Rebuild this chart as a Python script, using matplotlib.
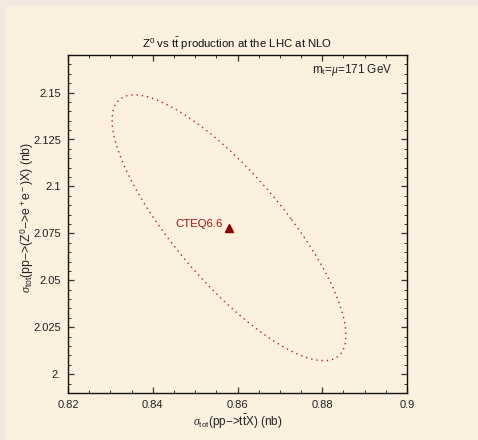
import numpy as np
import matplotlib
matplotlib.use("Agg")
import matplotlib.pyplot as plt
from matplotlib.patches import Ellipse, Rectangle
from matplotlib.ticker import MultipleLocator, FixedLocator, FixedFormatter

plt.rcParams['font.family'] = ['Liberation Sans', 'DejaVu Sans']
plt.rcParams['mathtext.fontset'] = 'custom'
plt.rcParams['mathtext.rm'] = 'Liberation Sans'
plt.rcParams['mathtext.it'] = 'Liberation Serif:italic'
plt.rcParams['mathtext.bf'] = 'Liberation Sans:bold'

# CTEQ6.6 central prediction (nb)
pdf_name = "CTEQ6.6"
sigma_tt = 0.858
sigma_z = 2.078

# PDF uncertainty ellipse: half-extents along each axis and correlation
half_tt = 0.0276
half_z = 0.0708
corr = -0.81

xticks = [0.82, 0.84, 0.86, 0.88, 0.9]
xticklabels = ["0.82", "0.84", "0.86", "0.88", "0.9"]
yticks = [2.0, 2.025, 2.05, 2.075, 2.1, 2.125, 2.15]
yticklabels = ["2.", "2.025", "2.05", "2.075", "2.1", "2.125", "2.15"]

cream = "#fcf0df"
border = "#f4e8e0"
dark_red = "#8b0000"

fig = plt.figure(figsize=(4.78, 4.40), dpi=100, facecolor=cream)
W, H = 478, 440
fig.patches.append(Rectangle((0, 0), 6 / W, 1, transform=fig.transFigure,
                             facecolor=border, edgecolor='none', zorder=0))
fig.patches.append(Rectangle((0, 1 - 6 / H), 1, 6 / H, transform=fig.transFigure,
                             facecolor=border, edgecolor='none', zorder=0))

ax = fig.add_axes([68 / W, 47 / H, 339 / W, 338 / H])
ax.set_facecolor(cream)
ax.set_xlim(0.82, 0.90)
ax.set_ylim(1.99, 2.17)

# Covariance ellipse drawn from its principal axes
cov = np.array([[half_tt ** 2, corr * half_tt * half_z],
                [corr * half_tt * half_z, half_z ** 2]])
vals, vecs = np.linalg.eigh(cov)
angle = np.degrees(np.arctan2(vecs[1, 1], vecs[0, 1]))
ell = Ellipse((sigma_tt, sigma_z), width=2 * np.sqrt(vals[1]), height=2 * np.sqrt(vals[0]),
              angle=angle, fill=False, edgecolor="#b52020", linewidth=1.0,
              linestyle=(0, (1, 2.8)))
ax.add_patch(ell)

ax.plot([sigma_tt], [sigma_z], marker='^', color=dark_red, markersize=5.5, linestyle='none')
ax.text(sigma_tt - 0.0015, sigma_z + 0.002, pdf_name, color="#a01010", fontsize=8.2,
        ha='right', va='center')

ax.text(0.956, 0.955, r"m$_{\rm t}$=$\mu$=171 GeV", transform=ax.transAxes,
        fontsize=8.5, ha='right', va='center', color="#222222")

ax.xaxis.set_major_locator(FixedLocator(xticks))
ax.xaxis.set_major_formatter(FixedFormatter(xticklabels))
ax.yaxis.set_major_locator(FixedLocator(yticks))
ax.yaxis.set_major_formatter(FixedFormatter(yticklabels))
ax.xaxis.set_minor_locator(MultipleLocator(0.005))
ax.yaxis.set_minor_locator(MultipleLocator(0.005))
ax.tick_params(which='both', direction='in', top=True, right=True, color="#333333",
               labelsize=8, labelcolor="#222222")
ax.tick_params(which='major', length=4.5, width=0.9, pad=5)
ax.tick_params(which='minor', length=2.5, width=0.7)
for s in ax.spines.values():
    s.set_linewidth(1.0)
    s.set_color("#111111")

ax.set_title(r"Z$^0$ vs t$\bar{\rm t}$ production at the LHC at NLO", fontsize=8.2,
             pad=5, color="#111111")
ax.set_xlabel(r"$\sigma_{\rm tot}$(pp$-$>t$\bar{\rm t}$X) (nb)", fontsize=8.5,
              color="#222222", labelpad=2)
ax.set_ylabel(r"$\sigma_{\rm tot}$(pp$-$>(Z$^0$$-$>e$^+$e$^-$)X) (nb)", fontsize=8.8,
              color="#222222", labelpad=-2)
ax.yaxis.label.set_y(0.52)

fig.savefig("out.png", dpi=100, facecolor=cream)
